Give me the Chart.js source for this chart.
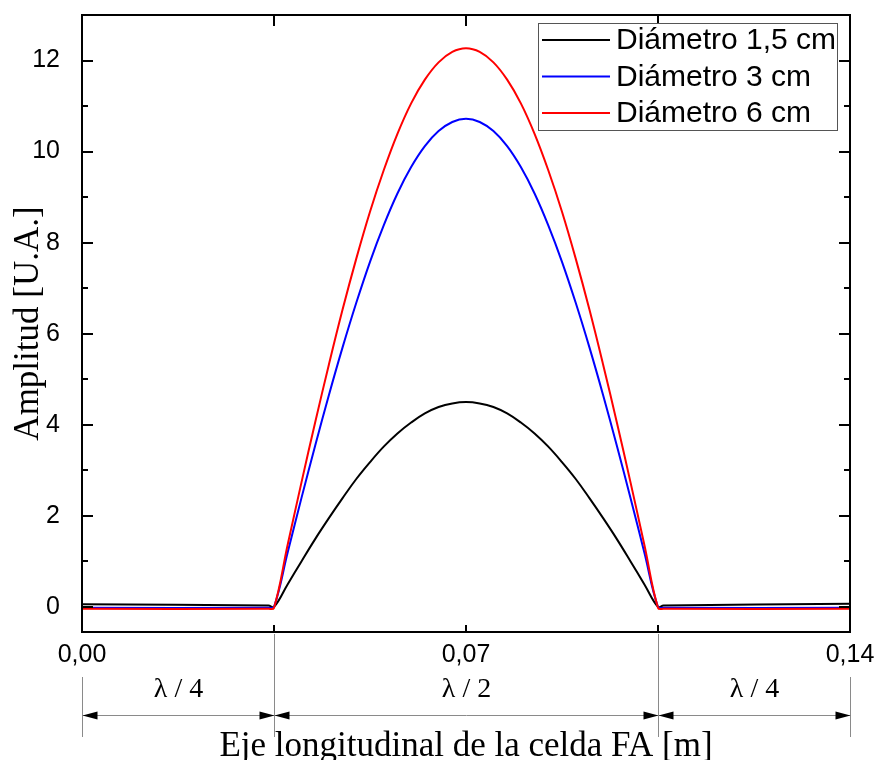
<!DOCTYPE html>
<html>
<head>
<meta charset="utf-8">
<script src="https://cdn.jsdelivr.net/npm/chart.js@4.4.1/dist/chart.umd.min.js"></script>
<style>
  html, body { margin: 0; padding: 0; background: #fff; }
  #wrap { width: 875px; height: 760px; }
</style>
</head>
<body>
<div id="wrap"><canvas id="amplitudChart" width="875" height="760"></canvas></div>
<script>
// Posición a lo largo de la celda (m)
const posiciones = [0, 0.034,
  0.035, 0.0375, 0.04, 0.0425, 0.045, 0.0475, 0.05, 0.0525, 0.055, 0.0575,
  0.06, 0.0625, 0.065, 0.0675, 0.07, 0.0725, 0.075, 0.0775, 0.08, 0.0825,
  0.085, 0.0875, 0.09, 0.0925, 0.095, 0.0975, 0.1, 0.1025, 0.105,
  0.106, 0.14];

// Amplitud [U.A.] para cada diámetro
const amp15 = [0.06, 0.03,
  0, 0.50, 1.00, 1.49, 1.95, 2.39, 2.81, 3.18, 3.52, 3.81, 4.05, 4.25, 4.39, 4.47,
  4.50, 4.47, 4.39, 4.25, 4.05, 3.81, 3.52, 3.18, 2.81, 2.39, 1.95, 1.49, 1.00, 0.50, 0,
  0.03, 0.07];
const amp3 = [-0.02, -0.02,
  0, 1.20, 2.39, 3.54, 4.65, 5.70, 6.68, 7.58, 8.38, 9.08, 9.66, 10.12, 10.45, 10.65,
  10.72, 10.65, 10.45, 10.12, 9.66, 9.08, 8.38, 7.58, 6.68, 5.70, 4.65, 3.54, 2.39, 1.20, 0,
  -0.02, -0.02];
const amp6 = [-0.04, -0.04,
  -0.02, 1.37, 2.73, 4.05, 5.32, 6.53, 7.65, 8.68, 9.59, 10.39, 11.06, 11.58, 11.96, 12.19,
  12.27, 12.19, 11.96, 11.58, 11.06, 10.39, 9.59, 8.68, 7.65, 6.53, 5.32, 4.05, 2.73, 1.37, -0.02,
  -0.04, -0.04];

const series = ['Diámetro 1,5 cm', 'Diámetro 3 cm', 'Diámetro 6 cm'];
const colores = ['#000000', '#0000ff', '#ff0000'];

// tramos de la cota inferior
const tramoLimites = [0, 0.035, 0.105, 0.14];
const tramoEtiquetas = ['λ / 4', 'λ / 2', 'λ / 4'];

const sans = '"Liberation Sans", Arial, sans-serif';
const serif = '"Liberation Serif", "Times New Roman", serif';

function puntos(valores) {
  return posiciones.map((p, i) => ({ x: p, y: valores[i] }));
}

// marco, marcas hacia dentro, leyenda y cotas
const marcoPlugin = {
  id: 'marco',
  afterDraw(chart) {
    const { ctx, chartArea: a, scales: { x, y } } = chart;
    ctx.save();

    // marcas del eje Y (mayores cada 2, menores cada 1)
    ctx.strokeStyle = '#000';
    ctx.lineWidth = 2;
    ctx.beginPath();
    for (let v = 0; v <= 12; v++) {
      const py = Math.round(y.getPixelForValue(v));
      const len = v % 2 === 0 ? 11 : 6;
      ctx.moveTo(a.left, py); ctx.lineTo(a.left + len, py);
      ctx.moveTo(a.right, py); ctx.lineTo(a.right - len, py);
    }
    // marcas del eje X
    [0.035, 0.07, 0.105].forEach(v => {
      const px = Math.round(x.getPixelForValue(v));
      ctx.moveTo(px, a.top); ctx.lineTo(px, a.top + 11);
      ctx.moveTo(px, a.bottom); ctx.lineTo(px, a.bottom - 7);
    });
    ctx.stroke();

    // marco
    ctx.strokeRect(a.left, a.top, a.right - a.left, a.bottom - a.top);

    // leyenda
    const lx = 538, ly = 23, lw = 299, lh = 107;
    ctx.fillStyle = '#fff';
    ctx.fillRect(lx, ly, lw, lh);
    ctx.lineWidth = 1;
    ctx.strokeStyle = '#555';
    ctx.strokeRect(lx + 0.5, ly + 0.5, lw, lh);
    ctx.font = '30px ' + sans;
    ctx.textAlign = 'left';
    ctx.textBaseline = 'middle';
    series.forEach((nombre, i) => {
      const cy = 40 + i * 36.5;
      ctx.strokeStyle = colores[i];
      ctx.lineWidth = 2;
      ctx.beginPath();
      ctx.moveTo(542, cy); ctx.lineTo(610, cy);
      ctx.stroke();
      ctx.fillStyle = '#000';
      ctx.fillText(nombre, 616, cy + 1);
    });

    // cotas λ
    const cotaY = 715.5;
    const px = tramoLimites.map(v => Math.round(x.getPixelForValue(v)) + 0.5);
    ctx.strokeStyle = '#8a8a8a';
    ctx.lineWidth = 1;
    ctx.beginPath();
    px.forEach((p, i) => {
      const interior = i > 0 && i < px.length - 1;
      ctx.moveTo(p, interior ? a.bottom + 2 : 677);
      ctx.lineTo(p, 737);
    });
    ctx.moveTo(px[0], cotaY); ctx.lineTo(px[px.length - 1], cotaY);
    ctx.stroke();

    ctx.fillStyle = '#000';
    const flecha = (tip, dir) => {
      ctx.beginPath();
      ctx.moveTo(tip, cotaY);
      ctx.lineTo(tip - dir * 15, cotaY - 4);
      ctx.lineTo(tip - dir * 15, cotaY + 4);
      ctx.closePath();
      ctx.fill();
    };
    px.forEach((p, i) => {
      if (i > 0) flecha(p, 1);
      if (i < px.length - 1) flecha(p, -1);
    });

    ctx.font = '28px ' + serif;
    ctx.textAlign = 'center';
    ctx.textBaseline = 'middle';
    tramoEtiquetas.forEach((t, i) => {
      ctx.fillText(t, (px[i] + px[i + 1]) / 2, 690);
    });

    ctx.restore();
  }
};

const ctx = document.getElementById('amplitudChart');
const amplitudChart = new Chart(ctx, {
  type: 'line',
  data: {
    datasets: series.map((nombre, i) => ({
      label: nombre,
      data: puntos([amp15, amp3, amp6][i]),
      borderColor: colores[i],
      borderWidth: 2,
      pointRadius: 0,
      tension: 0.4,
      fill: false,
      order: 2 - i
    }))
  },
  options: {
    responsive: false,
    animation: false,
    layout: { padding: { left: 0, right: 25, top: 15, bottom: 0 } },
    plugins: {
      legend: { display: false },
      tooltip: { enabled: false }
    },
    scales: {
      x: {
        type: 'linear',
        min: 0,
        max: 0.14,
        grid: { display: false },
        border: { display: false },
        ticks: {
          stepSize: 0.035,
          autoSkip: false,
          maxRotation: 0,
          padding: 0,
          color: '#000',
          font: { family: sans, size: 25 },
          callback: v => {
            const k = v / 0.07;
            return Math.abs(k - Math.round(k)) < 1e-6 ? v.toFixed(2).replace('.', ',') : '';
          }
        },
        title: {
          display: true,
          text: 'Eje longitudinal de la celda FA [m]',
          color: '#000',
          font: { family: serif, size: 35, lineHeight: 0.74 },
          padding: 0
        },
        afterFit: s => {
          s.height = 128;
          s.paddingLeft = 0;
          s.paddingRight = 0;
        }
      },
      y: {
        min: -0.55,
        max: 13,
        grid: { display: false },
        border: { display: false },
        ticks: {
          stepSize: 2,
          includeBounds: false,
          padding: 14,
          color: '#000',
          font: { family: sans, size: 25 },
          callback: v => (Math.abs(v % 2) < 1e-6 ? String(v) : '')
        },
        title: {
          display: true,
          text: 'Amplitud [U.A.]',
          color: '#000',
          font: { family: serif, size: 35, lineHeight: 1 },
          padding: { top: 11, bottom: 0 }
        },
        afterFit: s => {
          s.width = 82;
          s.paddingTop = 0;
          s.paddingBottom = 0;
        }
      }
    }
  },
  plugins: [marcoPlugin]
});
</script>
</body>
</html>
